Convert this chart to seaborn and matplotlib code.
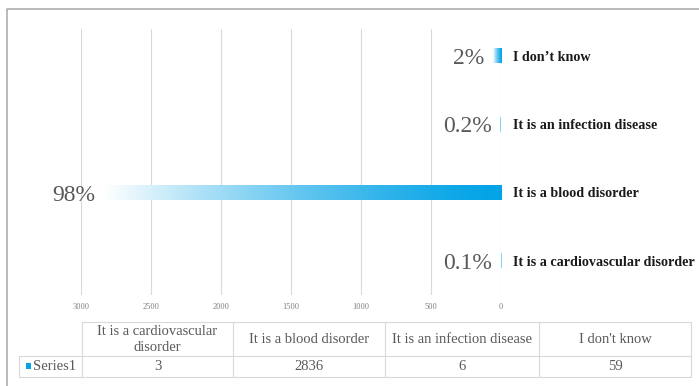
import numpy as np
import pandas as pd
import matplotlib
matplotlib.use("Agg")
import matplotlib.pyplot as plt
import seaborn as sns
from matplotlib.colors import to_rgb

# Survey answers (table order) and their counts
categories = ["It is a cardiovascular disorder", "It is a blood disorder",
              "It is an infection disease", "I don't know"]
table_headers = ["It is a cardiovascular\ndisorder", "It is a blood disorder",
                 "It is an infection disease", "I don't know"]
counts = [3, 2836, 6, 59]
pct_labels = ["0.1%", "98%", "0.2%", "2%"]
axis_labels = ["It is a cardiovascular disorder", "It is a blood disorder",
               "It is an infection disease", "I don\u2019t know"]
series_name = "Series1"
x_ticks = [0, 500, 1000, 1500, 2000, 2500, 3000]

BLUE = "#03A3E6"
GRID = "#d9d9d9"
TEXT = "#595959"

sns.set_style("white")
plt.rcParams["font.family"] = ["Liberation Serif", "DejaVu Serif"]

W, H = 699, 386
fig = plt.figure(figsize=(W / 100, H / 100), dpi=100)

# Plot area (figure pixels): x 81..501, y 29..295
ax = fig.add_axes([81 / W, 1 - 295 / H, 420 / W, 266 / H])

# Bars listed top-to-bottom in the chart
plot_df = pd.DataFrame({"answer": axis_labels[::-1], "count": counts[::-1]})
sns.barplot(data=plot_df, x="count", y="answer", orient="h", color=BLUE,
            width=0.22, ax=ax, zorder=2)

# Replace flat fills with a blue-to-white gradient fading away from the zero line
blue_rgb = np.array(to_rgb(BLUE))
t = np.linspace(0, 1, 256) ** 1.4
grad = np.ones((1, 256, 4))
grad[0, :, :3] = blue_rgb[None, :] * (1 - t[:, None]) + 1.0 * t[:, None]
for patch in ax.patches:
    x0, y0 = patch.get_x(), patch.get_y()
    w, h = patch.get_width(), patch.get_height()
    im = ax.imshow(grad, extent=(0, x0 + w, y0 + h, y0), aspect="auto",
                   interpolation="bilinear", zorder=2)
    im.set_clip_path(patch)
    patch.set_facecolor("none")
    patch.set_edgecolor("none")

# Percentage labels just beyond each bar's end
for i, (val, lab) in enumerate(zip(plot_df["count"], pct_labels[::-1])):
    ax.annotate(lab, xy=(val, i), xytext=(-6, -2), textcoords="offset points",
                ha="right", va="center", fontsize=17, color=TEXT, zorder=3)

ax.set_xlim(3000, 0)
ax.set_ylim(3.5, -0.39)
ax.set_xticks(x_ticks)
ax.set_xticklabels([str(v) for v in x_ticks], fontsize=6, color="#808080")
ax.tick_params(axis="x", length=0, pad=5.5)
ax.xaxis.grid(True, color=GRID, linewidth=0.8, zorder=0)
ax.set_axisbelow(True)
ax.yaxis.tick_right()
ax.tick_params(axis="y", length=0, pad=8.5)
for lbl in ax.get_yticklabels():
    lbl.set_fontweight("bold")
    lbl.set_fontsize(10.2)
    lbl.set_color("#1a1a1a")
ax.set_xlabel("")
ax.set_ylabel("")
for s in ax.spines.values():
    s.set_visible(False)

# Overlay in pixel coordinates for the outer frame and the data table
ov = fig.add_axes([0, 0, 1, 1], zorder=-1)
ov.set_xlim(0, W)
ov.set_ylim(H, 0)
ov.axis("off")

ov.plot([7, 7, W + 5], [H + 5, 9, 9], color="#a6a6a6", lw=1.1,
        solid_capstyle="butt")

col_edges = [82, 233, 385, 539, 691]
lw_t = 0.8
ov.plot([col_edges[0], col_edges[-1]], [322, 322], color=GRID, lw=lw_t)
for y in (356, 377):
    ov.plot([19, col_edges[-1]], [y, y], color=GRID, lw=lw_t)
ov.plot([19, 19], [356, 377], color=GRID, lw=lw_t)
for x in col_edges:
    ov.plot([x, x], [322, 377], color=GRID, lw=lw_t)

for j, (hdr, val) in enumerate(zip(table_headers, counts)):
    cx = (col_edges[j] + col_edges[j + 1]) / 2
    ov.text(cx, 339.5, hdr, ha="center", va="center", fontsize=10.5,
            color=TEXT, linespacing=1.3)
    ov.text(cx, 367, str(val), ha="center", va="center", fontsize=10.5,
            color=TEXT)

ov.add_patch(plt.Rectangle((26, 363), 5, 6, color=BLUE, lw=0))
ov.text(33, 367, series_name, ha="left", va="center", fontsize=10.5,
        color=TEXT)

fig.savefig("out.png", dpi=100, facecolor="white")
